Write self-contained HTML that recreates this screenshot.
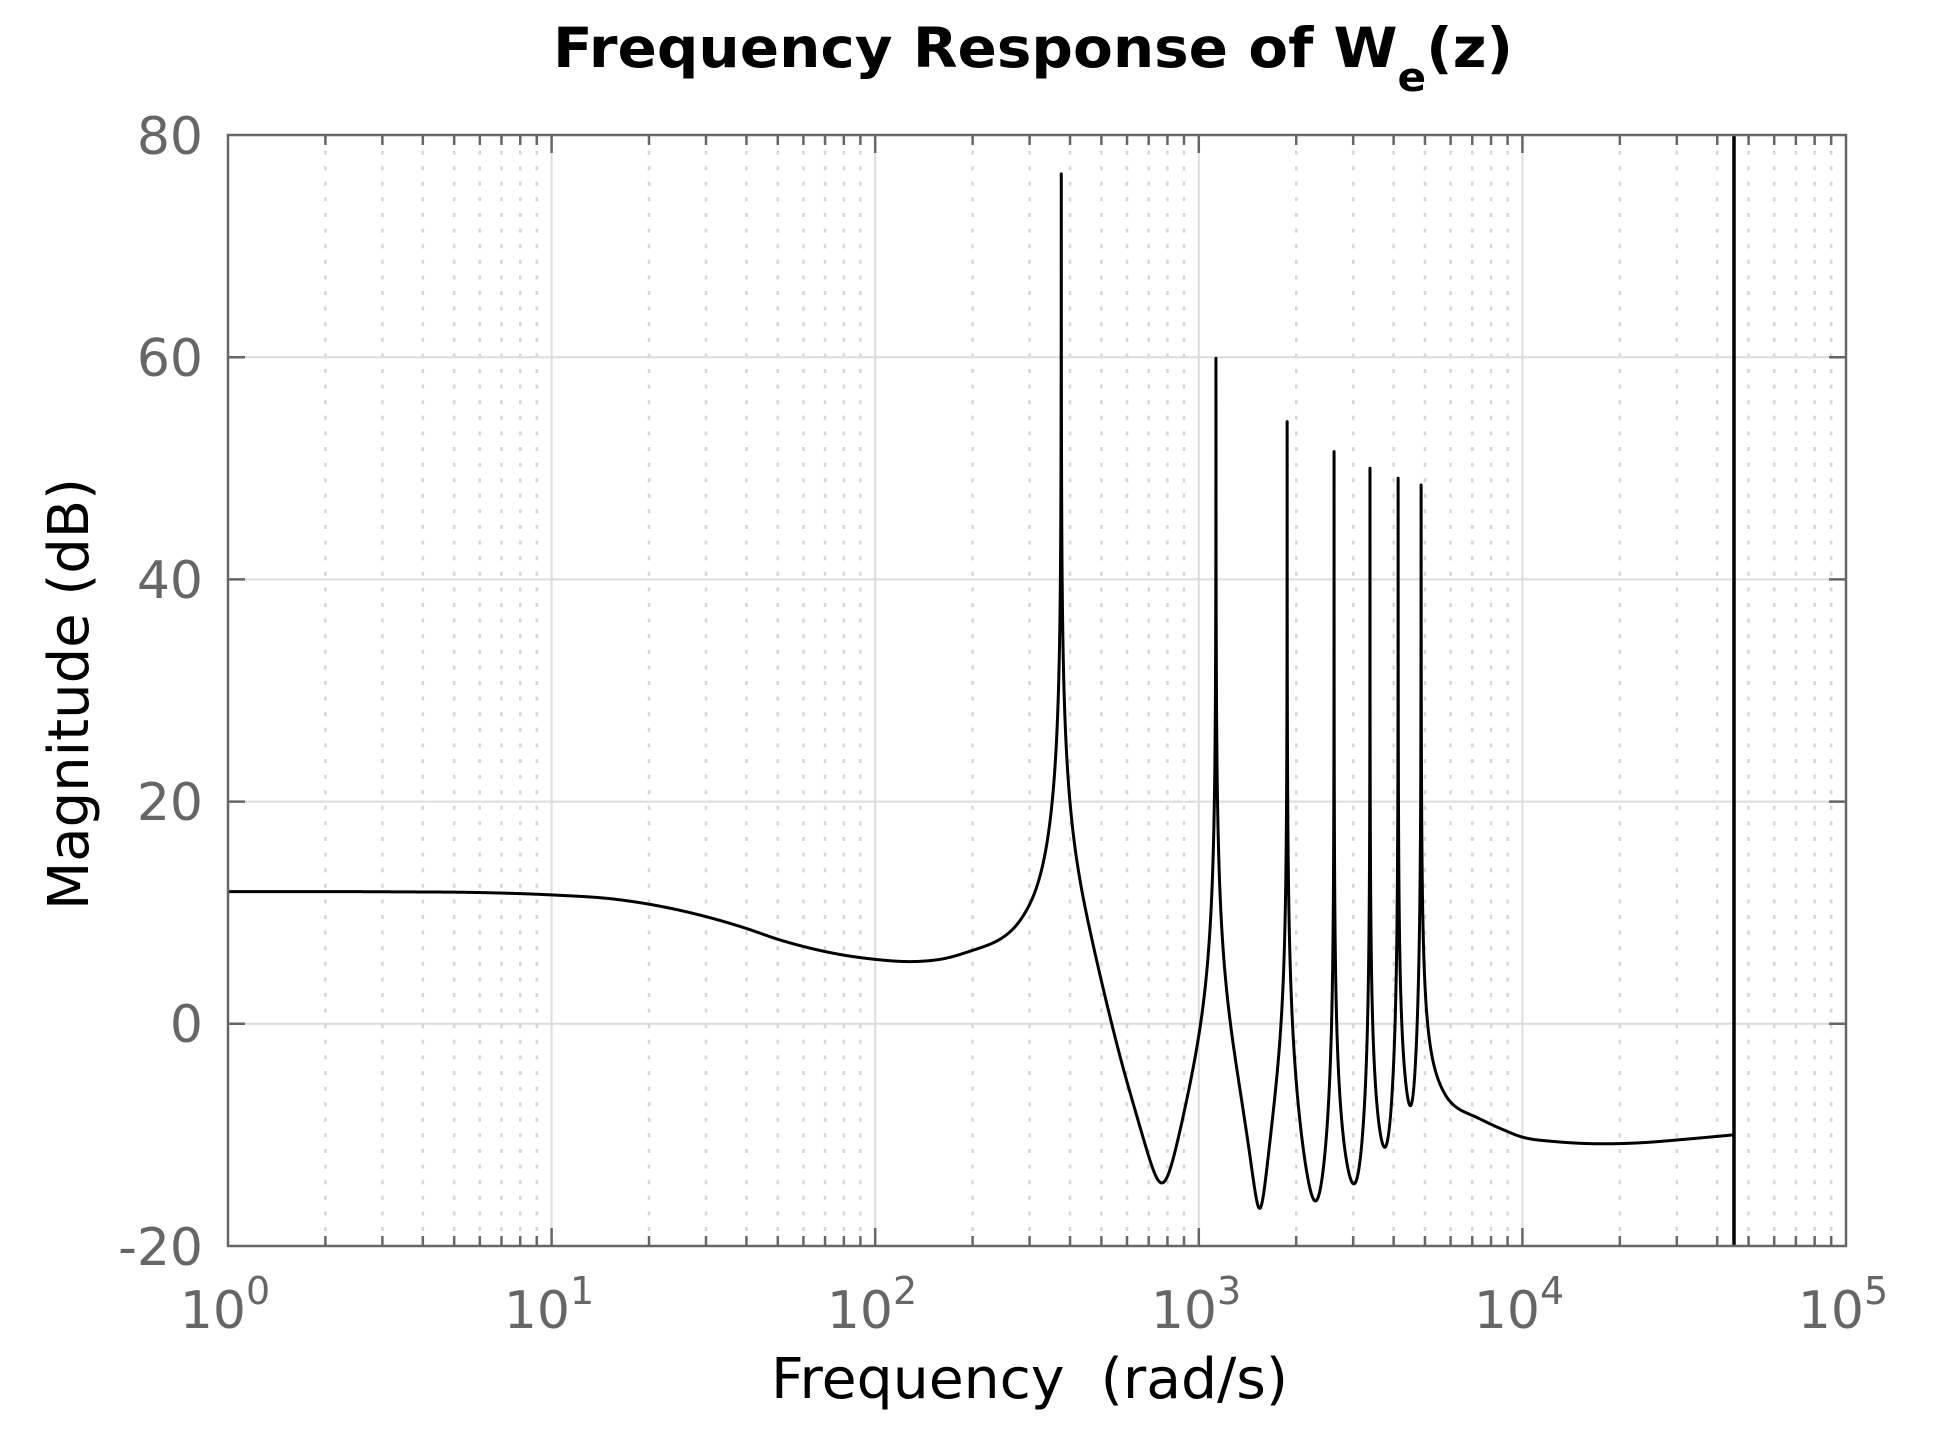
<!DOCTYPE html>
<html><head><meta charset="utf-8"><style>
html,body{margin:0;padding:0;background:#fff;}
svg{display:block;}
</style></head><body>
<svg id="s" width="1938" height="1432" viewBox="0 0 1938 1432" xmlns="http://www.w3.org/2000/svg">
<rect width="1938" height="1432" fill="#fff"/>
<g id="grid"></g>
<path id="curve" fill="none" stroke="#000" stroke-width="3" stroke-linejoin="round"/>
<line x1="1734" y1="135" x2="1734" y2="1246" stroke="#000" stroke-width="3.5"/>
<g id="axes"></g>
<g font-family="DejaVu Sans, 'Liberation Sans', sans-serif" fill="#666" font-size="52" text-anchor="end">
<text x="203" y="154">80</text>
<text x="203" y="376">60</text>
<text x="203" y="598">40</text>
<text x="203" y="820">20</text>
<text x="203" y="1042">0</text>
<text x="203" y="1265">-20</text>
</g>
<g font-family="DejaVu Sans, 'Liberation Sans', sans-serif" fill="#666" font-size="52" text-anchor="middle">
<text x="225" y="1328">10<tspan dy="-24" font-size="38">0</tspan></text>
<text x="549" y="1328">10<tspan dy="-24" font-size="38">1</tspan></text>
<text x="872" y="1328">10<tspan dy="-24" font-size="38">2</tspan></text>
<text x="1196" y="1328">10<tspan dy="-24" font-size="38">3</tspan></text>
<text x="1519" y="1328">10<tspan dy="-24" font-size="38">4</tspan></text>
<text x="1843" y="1328">10<tspan dy="-24" font-size="38">5</tspan></text>
</g>
<text x="771" y="1398" font-family="DejaVu Sans, 'Liberation Sans', sans-serif" font-size="56" fill="#000" textLength="517" lengthAdjust="spacingAndGlyphs" xml:space="preserve">Frequency  (rad/s)</text>
<text transform="translate(88,910) rotate(-90)" x="0" y="0" font-family="DejaVu Sans, 'Liberation Sans', sans-serif" font-size="56" fill="#000" textLength="432" lengthAdjust="spacingAndGlyphs">Magnitude (dB)</text>
<text x="553" y="67" font-family="DejaVu Sans, 'Liberation Sans', sans-serif" font-weight="bold" font-size="55" fill="#000" textLength="960" lengthAdjust="spacingAndGlyphs">Frequency Response of W<tspan dy="24" font-size="40">e</tspan><tspan dy="-24">(z)</tspan></text>
</svg>
<script>
(function(){
var NS="http://www.w3.org/2000/svg";
function X(x){return 228+x*323.6;}
function Y(d){return 135+(80-d)*11.11;}
function el(p,t,a){var e=document.createElementNS(NS,t);for(var k in a)e.setAttribute(k,a[k]);p.appendChild(e);return e;}
var g=document.getElementById('grid'), ax=document.getElementById('axes');
var T=135,B=1246,L=228,R=1846;
for(var dec=0;dec<5;dec++){
  for(var m=2;m<=9;m++){
    var xx=X(dec+Math.log10(m));
    el(g,'line',{x1:xx,y1:T,x2:xx,y2:B,stroke:'#d6d6d6','stroke-width':2.5,'stroke-dasharray':'4 11.6'});
    el(ax,'line',{x1:xx,y1:T,x2:xx,y2:T+10,stroke:'#666','stroke-width':2.5});
    el(ax,'line',{x1:xx,y1:B,x2:xx,y2:B-10,stroke:'#666','stroke-width':2.5});
  }
  if(dec>0){var xm=X(dec);
    el(g,'line',{x1:xm,y1:T,x2:xm,y2:B,stroke:'#dcdcdc','stroke-width':2});
    el(ax,'line',{x1:xm,y1:T,x2:xm,y2:T+18,stroke:'#666','stroke-width':2.5});
    el(ax,'line',{x1:xm,y1:B,x2:xm,y2:B-18,stroke:'#666','stroke-width':2.5});}
}
[60,40,20,0].forEach(function(d){var y=Y(d);
  el(g,'line',{x1:L,y1:y,x2:R,y2:y,stroke:'#dcdcdc','stroke-width':2});
  el(ax,'line',{x1:L,y1:y,x2:L+17,y2:y,stroke:'#666','stroke-width':2.5});
  el(ax,'line',{x1:R,y1:y,x2:R-17,y2:y,stroke:'#666','stroke-width':2.5});
});
el(ax,'rect',{x:L,y:T,width:R-L,height:B-T,fill:'none',stroke:'#666','stroke-width':2.5});

var P=[2.575,3.053,3.273,3.418,3.529,3.616,3.687], PT=[76.5,59.9,54.2,51.5,50.0,49.1,48.5];
var Z=[2.889,3.189,3.366,3.492,3.585,3.662], ZT=[-14.3,-16.6,-15.8,-13.5,-10.2,-6.4];
var zp=P.map(function(){return 0.001;}), zz=Z.map(function(){return 0.05;});
var A=[[0,11.9],[0.5,11.88],[0.8,11.8],[1.0,11.6],[1.2,11.2],[1.35,10.5],[1.47,9.7],[1.6,8.6],[1.7,7.6],[1.8,6.8],[1.88,6.3],[2.0,5.8],[2.11,5.6],[2.2,5.8],[2.3,6.6],[2.45,9.4],[2.52,14.6],[2.66,8.9],[2.775,-4.9],[3.007,0.3],[3.133,-7],[3.254,0],[3.304,-6.2],[3.758,-6.2],[3.857,-8.4],[3.93,-9.4],[4.0,-10.2],[4.1,-10.6],[4.24,-10.8],[4.37,-10.7],[4.5,-10.4],[4.651,-10.0]];
var C=A.map(function(){return 0;});
function term(x,c,z){var r=Math.pow(10,x-c);var a=1-r*r,b=2*z*r;return 10*Math.log10(a*a+b*b);}
function raw(x,skipP,skipZ){var s=0;for(var i=0;i<P.length;i++)if(i!==skipP)s-=term(x,P[i],zp[i]);
  for(var j=0;j<Z.length;j++)if(j!==skipZ)s+=term(x,Z[j],zz[j]);return s;}
function slope(k){var n=A.length;
  if(k===0)return (C[1]-C[0])/(A[1][0]-A[0][0]);
  if(k===n-1)return (C[n-1]-C[n-2])/(A[n-1][0]-A[n-2][0]);
  var h0=A[k][0]-A[k-1][0],h1=A[k+1][0]-A[k][0];
  var d0=(C[k]-C[k-1])/h0,d1=(C[k+1]-C[k])/h1;
  return (d0*h1+d1*h0)/(h0+h1);}
function corr(x){if(x<=A[0][0])return C[0];
  for(var k=1;k<A.length;k++){if(x<=A[k][0]){
    var h=A[k][0]-A[k-1][0],t=(x-A[k-1][0])/h;
    var m0=slope(k-1)*h,m1=slope(k)*h;
    var t2=t*t,t3=t2*t;
    return (2*t3-3*t2+1)*C[k-1]+(t3-2*t2+t)*m0+(-2*t3+3*t2)*C[k]+(t3-t2)*m1;}}
  return C[C.length-1];}
for(var it=0;it<10;it++){
  for(var k=0;k<A.length;k++)C[k]=A[k][1]-raw(A[k][0],-1,-1);
  for(var j=0;j<Z.length;j++){var o=raw(Z[j],-1,j)+corr(Z[j]);var v=0.5*Math.pow(10,(ZT[j]-o)/20);zz[j]=Math.min(1.5,Math.max(0.003,v));}
  for(var i=0;i<P.length;i++){var o2=raw(P[i],i,-1)+corr(P[i]);var v2=0.5*Math.pow(10,-(PT[i]-o2)/20);zp[i]=Math.min(0.5,Math.max(1e-6,v2));}
}
var xs=[];for(var n=0;n<=6000;n++)xs.push(4.651*n/6000);
P.concat(Z).forEach(function(c){xs.push(c);for(var m=-150;m<=150;m++)xs.push(c+m*0.00008);});
xs=xs.filter(function(x){return x>=0&&x<=4.651;}).sort(function(a,b){return a-b;});
var d="";for(var q=0;q<xs.length;q++){var x=xs[q];var db=raw(x,-1,-1)+corr(x);
  var yy=Y(db);if(yy<135)yy=135;if(yy>1246)yy=1246;
  d+=(q?"L":"M")+X(x).toFixed(2)+" "+yy.toFixed(2);}
document.getElementById('curve').setAttribute('d',d);
})();
</script>
</body></html>
